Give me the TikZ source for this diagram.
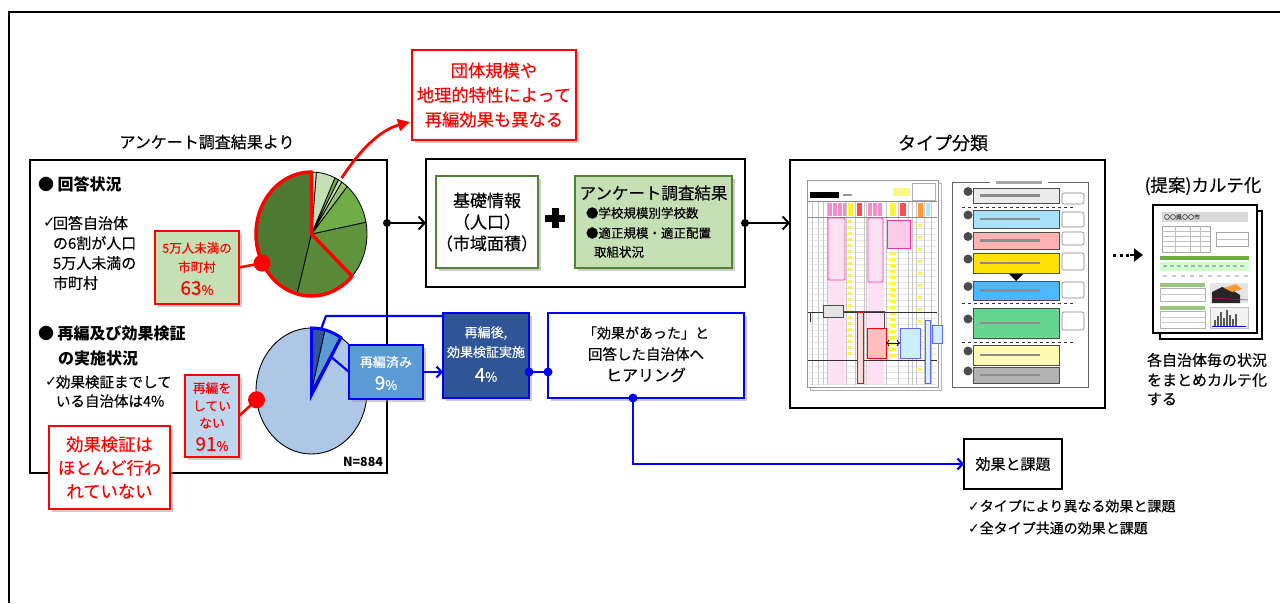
\documentclass[tikz,border=0pt]{standalone}
\usepackage{fontspec}
\setmainfont{Noto Sans CJK JP}[UprightFeatures={FakeBold=0.35}]
\newfontfamily\dvs{DejaVu Sans}
\usetikzlibrary{arrows.meta,shadows,calc}
\definecolor{gA}{RGB}{78,121,50}
\definecolor{gB}{RGB}{88,138,56}
\definecolor{gC}{RGB}{95,148,60}
\definecolor{gD}{RGB}{112,173,71}
\definecolor{gE}{RGB}{150,195,110}
\definecolor{gF}{RGB}{197,224,180}
\definecolor{gG}{RGB}{226,239,218}
\definecolor{lgreen}{RGB}{197,224,180}
\definecolor{dgreen}{RGB}{84,130,53}
\definecolor{bL}{RGB}{174,199,230}
\definecolor{bM}{RGB}{91,155,213}
\definecolor{bD}{RGB}{47,85,151}
\definecolor{lblue}{RGB}{189,215,238}
\definecolor{pblue}{RGB}{0,0,255}
\newcommand{\fs}[2]{\fontsize{#1}{#2}\selectfont}
\newcommand{\ck}{{\dvs ✓}}
\newcommand{\pwedge}[5]{\filldraw[fill=#1,draw=black,line width=0.8pt] (0,0) -- (#2:#4 and #5) arc[start angle=#2,end angle=#3,x radius=#4,y radius=#5] -- cycle;}
\begin{document}
\begin{tikzpicture}[x=1pt,y=-1pt,
  every node/.style={inner sep=0pt,outer sep=0pt},
  frame/.style={draw=black,line width=2.5pt},
  shad/.style={drop shadow={shadow xshift=2.5pt,shadow yshift=-2.5pt,fill=black!40}},
  redbox/.style={draw=red,line width=2.8pt,fill=white,shad,align=center,text=red},
  lab/.style={draw=red,line width=1.6pt,shad,align=center,text=red},
  bluebox/.style={draw=pblue,line width=1.8pt,shad,align=center},
  blk/.style={line width=2pt,-{Straight Barb[length=6pt,width=13pt,line width=2pt]}},
  bla/.style={pblue,line width=2.2pt},
  gbox/.style={draw=dgreen,line width=1.2pt,shad}
]
\useasboundingbox (0,0) rectangle (1280,603);
% outer frame
\draw[line width=1.6pt] (9,603) -- (9,12) -- (1280,12);

% ================= left block
\node[font=\fs{16}{20}] (t1) at (207,142) {アンケート調査結果より};
\node[frame,minimum width=357pt,minimum height=313pt] (lbox) at (208.5,316.5) {};
\node[anchor=west,font=\fs{16}{20}\bfseries] at (38,184) {● 回答状況};
\node[anchor=west,font=\fs{15}{18}] at (43,223) {\ck};
\node[anchor=west,font=\fs{15}{18}] at (53,223) {回答自治体};
\node[anchor=west,font=\fs{15}{18}] at (53,243) {の6割が人口};
\node[anchor=west,font=\fs{15}{18}] at (53,263) {5万人未満の};
\node[anchor=west,font=\fs{15}{18}] at (53,283) {市町村};

\node[anchor=west,font=\fs{16}{20}\bfseries] at (38,333) {● 再編及び効果検証};
\node[anchor=west,font=\fs{16}{20}\bfseries] at (58,358) {の実施状況};
\node[anchor=west,font=\fs{14.5}{18}] at (45,382) {\ck};
\node[anchor=west,font=\fs{14.5}{18}] at (56,382) {効果検証までして};
\node[anchor=west,font=\fs{14.5}{18}] at (56,401) {いる自治体は4\%};

% pie 1
\begin{scope}[shift={(311.5,234)}]
\pwedge{gA}{90}{255}{55.5pt}{62pt}
\pwedge{gB}{255}{317}{55.5pt}{62pt}
\pwedge{gC}{317}{371}{55.5pt}{62pt}
\pwedge{gD}{11}{50}{55.5pt}{62pt}
\pwedge{gE}{50}{57}{55.5pt}{62pt}
\pwedge{gF}{57}{61}{55.5pt}{62pt}
\pwedge{gD}{61}{65}{55.5pt}{62pt}
\pwedge{gF}{65}{85}{55.5pt}{62pt}
\pwedge{gG}{85}{90}{55.5pt}{62pt}
\draw[red,line width=3.5pt,line join=round] (0,0) -- (90:55.5pt and 62pt) arc[start angle=90,end angle=317,x radius=55.5pt,y radius=62pt] -- cycle;
\coordinate (p1a) at (58:57pt and 66pt);
\coordinate (dot1) at (208:56pt and 62pt);
\end{scope}

\node[lab,fill=lgreen,minimum width=84pt,minimum height=73pt] (lab63) at (197,267.5) {};
\node[text=red,font=\fs{12.5}{15}] at (197,248) {5万人未満の};
\node[text=red,font=\fs{12.5}{15}] at (197,267) {市町村};
\node[text=red,font=\fs{19}{20}] at (197,288) {63{\fs{13}{14}\%}};
\draw[red,line width=2.5pt] (lab63.east) -- (dot1);
\fill[red] (dot1) circle (8.5pt);

% red top box
\node[redbox,minimum width=164pt,minimum height=90pt,font=\fs{17.3}{24.5}] (rtop) at (494,95) {団体規模や\\地理的特性によって\\再編効果も異なる};
\coordinate (rt) at (410,122);
\draw[red,line width=2.8pt,-{Triangle[length=12pt,width=12pt]}] (p1a) .. controls (360,150) and (380,130) .. (rt);

% pie 2
\begin{scope}[shift={(311.5,391)}]
\filldraw[fill=bL,draw=black,line width=0.9pt] (0,0) ellipse[x radius=55.5pt,y radius=63pt];
\pwedge{bM}{59}{76}{55.5pt}{63pt}
\pwedge{bD}{76}{90}{55.5pt}{63pt}
\coordinate (p2top) at (80:55.5pt and 63pt);
\coordinate (p2in) at (60:38pt and 40pt);
\coordinate (dot2) at (188:55.5pt and 63pt);
\end{scope}
\begin{scope}[shift={(311.5,395)}]
\draw[pblue,line width=3pt,line join=miter] (0,0) -- (90:57pt and 67pt) arc[start angle=90,end angle=59,x radius=57pt,y radius=67pt] -- cycle;
\end{scope}
\node[anchor=east,font=\fs{12.5}{14}\bfseries] at (383,462) {N=884};

\node[lab,fill=lblue,minimum width=54pt,minimum height=82pt] (lab91) at (212,416) {};
\node[text=red,font=\fs{12.8}{15}] at (212,388) {再編を};
\node[text=red,font=\fs{12.8}{15}] at (212,406) {してい};
\node[text=red,font=\fs{12.8}{15}] at (212,423) {ない};
\node[text=red,font=\fs{19}{20}] at (212,444) {91{\fs{13}{14}\%}};
\draw[red,line width=2.5pt] (lab91.east) -- (dot2);
\fill[red] (dot2) circle (8.5pt);

\node[redbox,minimum width=121pt,minimum height=83pt,font=\fs{17.3}{23.5}] (rno) at (109.5,467.5) {効果検証は\\ほとんど行わ\\れていない};

% blue chain
\node[bluebox,fill=bM,minimum width=74pt,minimum height=54pt] (b9) at (386,372) {};
\node[text=white,font=\fs{13}{15}] at (386,362) {再編済み};
\node[text=white,font=\fs{19}{20}] at (386,383) {9{\fs{13}{14}\%}};
\draw[bla] (p2in) -- (b9.west);

\node[bluebox,fill=bD,minimum width=86pt,minimum height=85pt] (b4) at (486,355.5) {};
\node[text=white,font=\fs{13}{15}] at (486,333) {再編後,};
\node[text=white,font=\fs{13}{15}] at (486,352) {効果検証実施};
\node[text=white,font=\fs{19}{20}] at (486,375) {4{\fs{13}{14}\%}};
\coordinate (bj) at (326,316);
\draw[bla,line join=round] (p2top) -- (bj) -- (bj -| b4.west);
\draw[bla,-{Straight Barb[length=5pt,width=11pt,line width=2.2pt]}] (b9.east) -- (b9.east -| b4.west);

\node[bluebox,fill=white,line width=2pt,minimum width=196pt,minimum height=85pt] (hear) at (646,355.5) {};
\node[font=\fs{14}{16}] at (646,333) {「効果があった」と};
\node[font=\fs{14.5}{16}] at (646,354) {回答した自治体へ};
\node[font=\fs{16}{18}] at (646,375) {ヒアリング};
\draw[bla] (b4.east |- 0,372) -- (hear.west |- 0,372);
\fill[pblue] (b4.east |- 0,372) circle (4.5pt);
\fill[pblue] (hear.west |- 0,372) circle (4.5pt);

\node[frame,minimum width=98pt,minimum height=50pt,font=\fs{15}{18}] (eff) at (1013,464) {効果と課題};
\coordinate (hs) at (633,398);
\fill[pblue] (hs) circle (4.5pt);
\draw[bla,-{Straight Barb[length=5pt,width=11pt,line width=2.2pt]}] (hs) |- (eff.west);
\node[anchor=west,font=\fs{14}{16}] at (968,506) {\ck タイプにより異なる効果と課題};
\node[anchor=west,font=\fs{14}{16}] at (968,528) {\ck 全タイプ共通の効果と課題};

% ================= middle block
\node[frame,minimum width=319pt,minimum height=128pt] (mbox) at (585.5,223) {};
\node[gbox,fill=white,minimum width=98pt,minimum height=92pt,align=center,font=\fs{17}{21.5}] (kiso) at (487,222) {基礎情報\\（人口）\\（市域面積）};
\fill (551.5,208) rectangle (558.5,228);
\fill (545,214.5) rectangle (565,221.5);
\node[gbox,fill=lgreen,minimum width=157pt,minimum height=92pt] (anke) at (653.5,222) {};
\node[font=\fs{16.5}{20}] at (653.5,193) {アンケート調査結果};
\node[anchor=west,font=\fs{12.5}{15}] at (586,213) {●学校規模別学校数};
\node[anchor=west,font=\fs{12.5}{15}] at (586,233) {●適正規模・適正配置};
\node[anchor=west,font=\fs{12.5}{15}] at (594,252) {取組状況};

\fill (lbox.east |- mbox.west) circle (4pt);
\draw[blk] (lbox.east |- mbox.west) -- (mbox.west);

% ================= type block
\node[font=\fs{18}{20}] at (943,143) {タイプ分類};
\node[frame,minimum width=315pt,minimum height=248pt] (tbox) at (947.5,284) {};
\fill (mbox.east) circle (4pt);
\draw[blk] (mbox.east) -- (mbox.east -| tbox.west);

% left document
\draw[black!30,fill=white] (810,183) rectangle (941,390);
\draw[black!40,fill=white] (807,180) rectangle (938,387);
\fill[black] (810,192) rectangle (839,198);
\fill[black!40] (843,194) rectangle (852,196);
\fill[yellow!50] (893,188) rectangle (910,196);
\draw[black!30,line width=0.4pt] (912,183) rectangle (935,200);
\foreach \x in {828,833,838,843} \fill[magenta!45] (\x,203) rectangle (\x+4,216);
\fill[yellow!80] (848,203) rectangle (853,216);
\fill[red!70] (857,203) rectangle (862,216);
\foreach \x in {868,873,878} \fill[magenta!45] (\x,203) rectangle (\x+4,216);
\fill[yellow!80] (890,203) rectangle (896,216);
\fill[red!70] (900,203) rectangle (906,216);
\fill[orange!80] (918,203) rectangle (923,218);
\fill[cyan!30] (926,203) rectangle (930,216);
\foreach \y in {222,228,...,384} \draw[black!10,line width=0.3pt] (809,\y) -- (936,\y);
\foreach \x in {812,818,823,827,846,855,864,866,886,898,908,912,916,924,931} \draw[black!22,line width=0.3pt] (\x,201) -- (\x,385);
\draw[black!45,line width=0.4pt] (808,201) -- (937,201);
\draw[black!45,line width=0.4pt] (808,217) -- (937,217);
\fill[magenta!12] (828,218) rectangle (845,384);
\fill[magenta!12] (868,218) rectangle (884,384);
\foreach \y in {220,226,...,356} {\fill[yellow!75] (848,\y) rectangle (852,\y+3); \fill[yellow!75] (890,\y+2) rectangle (896,\y+5);}
\foreach \y in {224,236,...,372} \fill[yellow!70] (918,\y) rectangle (922,\y+3);
\draw[magenta!75,line width=0.9pt,rounded corners=1pt] (828,218) rectangle (845,280);
\draw[magenta!75,line width=0.9pt,rounded corners=1pt] (868,218) rectangle (883,282);
\draw[magenta!80,fill=magenta!20,line width=0.8pt] (887,220) rectangle (910,248);
\draw[black!80,line width=0.5pt] (808,312) -- (937,312);
\draw[black!80,line width=0.5pt] (808,360) -- (937,360);
\draw[black!80,line width=0.5pt] (810,312) -- (810,322);
\draw[black!70,fill=black!10,line width=0.6pt] (823,305) rectangle (843,317);
\draw[black!70,line width=0.5pt] (843,311) -- (884,311) -- (884,328);
\draw[red,fill=red!15,line width=1pt] (857,312) rectangle (863,383);
\draw[red,fill=red!25,line width=0.9pt] (867,328) rectangle (886,358);
\draw[pblue!60,fill=cyan!20,line width=0.9pt] (900,328) rectangle (920,358);
\draw[black,line width=0.8pt,<->] (886,343) -- (900,343);
\draw[pblue!60,fill=cyan!15,line width=1pt] (925,320) rectangle (930,383);
\draw[pblue!60,fill=cyan!20,line width=0.8pt] (932,325) rectangle (942,343);

% right document
\draw[black!60,line width=0.7pt] (952,182) rectangle (1088,387);
\fill[white] (990,178) rectangle (1048,186);
\fill[black!35] (996,181) rectangle (1042,184);
\foreach \ya/\yb/\c in {188/203/black!8,210/228/cyan!35,232/249/red!30,253/273/yellow!85!orange,281/300/blue!40!cyan!70,308/338/green!45!teal!60,345/365/yellow!30,367/383/black!30} {
  \draw[black!70,fill=\c,line width=0.7pt] (973,\ya) rectangle (1059,\yb);
  \fill[black!70] (968,{(\ya+\yb)/2-4}) circle (4.5pt);
  \fill[black!45] (980,{(\ya+\yb)/2-1.5}) rectangle (1040,{(\ya+\yb)/2+1});
}
\foreach \ya/\yb in {193/204,212/227,232/245,253/270,282/298,312/330}
  \draw[black!50,line width=0.6pt,rounded corners=2pt] (1062,\ya) rectangle (1084,\yb);
\draw[black!80,dashed,line width=0.7pt] (962,207) -- (1075,207);
\draw[black!80,dashed,line width=0.7pt] (962,303) -- (1075,303);
\draw[black!80,dashed,line width=0.7pt] (962,342) -- (1075,342);
\fill (1009,274) -- (1023,274) -- (1016,281) -- cycle;

% ================= karte
\node[font=\fs{17.5}{20}] at (1203,186) {(提案)カルテ化};
\draw[line width=2pt,fill=white] (1160,211) rectangle (1262,339);
\node[draw,line width=2pt,fill=white,minimum width=104pt,minimum height=128pt] (karte) at (1205,269) {};
\fill[black!15] (1162,212) rectangle (1248,222);
\node[anchor=west,font=\fs{6}{7},text=black!70] at (1164,217) {〇〇県〇〇市};
\draw[black!35,line width=0.4pt] (1162,226) rectangle (1210,252);
\foreach \y in {231,236,241,246} \draw[black!25,line width=0.3pt] (1162,\y) -- (1210,\y);
\foreach \x in {1175,1190,1200} \draw[black!25,line width=0.3pt] (\x,226) -- (\x,252);
\draw[black!35,line width=0.4pt] (1216,232) rectangle (1248,246);
\draw[black!25,line width=0.3pt] (1216,239) -- (1248,239);
\fill[gD] (1160,256) rectangle (1249,260);
\fill[green!20] (1160,262) rectangle (1249,271);
\foreach \x in {1163,1170,...,1245} \fill[black!30] (\x,265) rectangle (\x+4,267);
\foreach \x in {1163,1172,...,1245} \fill[black!20] (\x,275) rectangle (\x+4,277);
\fill[gD!70] (1160,283) rectangle (1205,287);
\draw[black!30,line width=0.3pt] (1160,288) rectangle (1205,301);
\draw[black!20,line width=0.3pt] (1160,294) -- (1205,294);
\fill[black!10] (1210,283) rectangle (1248,303);
\fill[black!85] (1212,292) -- (1222,287) -- (1232,290) -- (1240,295) -- (1240,303) -- (1212,303) -- cycle;
\fill[orange!80] (1224,288) -- (1236,284) -- (1242,289) -- (1232,292) -- cycle;
\draw[magenta,line width=0.5pt] (1212,298) -- (1248,300);
\fill[gD!70] (1160,306) rectangle (1205,310);
\draw[black!30,line width=0.3pt] (1160,311) rectangle (1205,328);
\draw[black!20,line width=0.3pt] (1160,317) -- (1205,317) (1160,322) -- (1205,322);
\draw[black!25,fill=black!5,line width=0.3pt] (1210,307) rectangle (1248,328);
\foreach \x/\h in {1214/6,1217/10,1220/14,1223/8,1226/16,1229/11,1232/7,1235/12} \fill[black!65] (\x,326-\h) rectangle (\x+1.5,326);
\draw[pblue,line width=0.6pt] (1212,326) -- (1246,326);
\node[anchor=west,font=\fs{15}{18}] at (1147,360) {各自治体毎の状況};
\node[anchor=west,font=\fs{15}{18}] at (1147,380) {をまとめカルテ化};
\node[anchor=west,font=\fs{15}{18}] at (1147,399) {する};
\coordinate (da) at (1113,255);
\coordinate (db) at (1143,255);
\draw[line width=3pt,dash pattern=on 3pt off 3.5pt] (da) -- (1131,255);
\draw[line width=2.5pt,-{Triangle[length=9pt,width=13pt]}] (1130,255) -- (db);
\end{tikzpicture}
\end{document}
